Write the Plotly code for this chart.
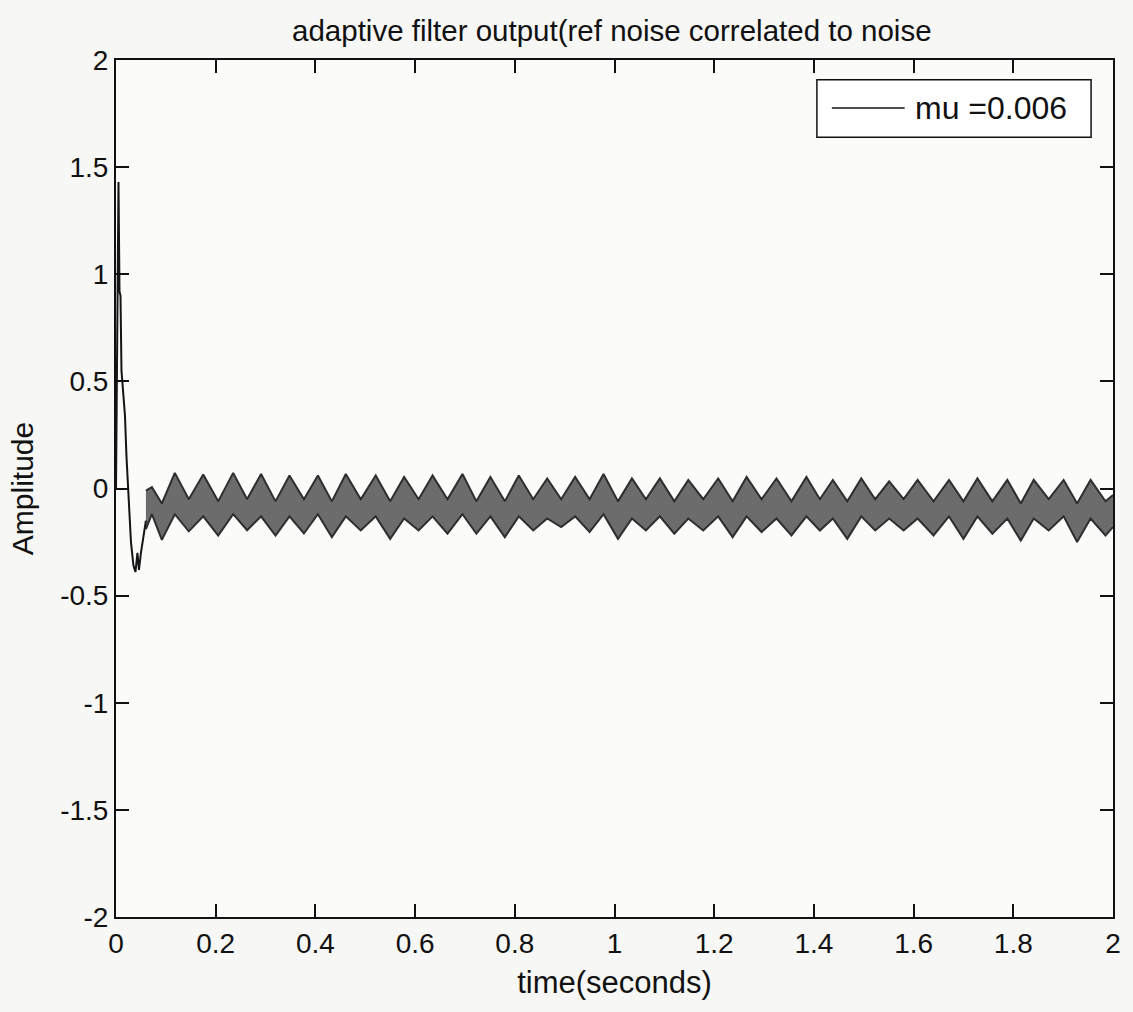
import plotly.graph_objects as go

# ---- data ----
# initial transient of the adaptive filter output
trans_t = [0.0, 0.005, 0.007, 0.009, 0.011, 0.013, 0.018, 0.021, 0.026, 0.030, 0.035, 0.039, 0.043, 0.046, 0.050, 0.055, 0.060]
trans_v = [0.0, 1.43, 0.92, 0.90, 0.55, 0.49, 0.34, 0.15, -0.09, -0.25, -0.36, -0.39, -0.30, -0.38, -0.30, -0.22, -0.15]

# slow oscillation of the (dense) steady-state band: maxima
peak_t = [0.072, 0.118, 0.175, 0.235, 0.291, 0.348, 0.405, 0.461, 0.521, 0.578, 0.635,
          0.695, 0.751, 0.808, 0.865, 0.921, 0.978, 1.035, 1.091, 1.148, 1.208, 1.265,
          1.325, 1.385, 1.438, 1.495, 1.551, 1.608, 1.671, 1.728, 1.788, 1.841, 1.901, 1.955]
peak_top = [0.006, 0.073, 0.065, 0.073, 0.068, 0.061, 0.061, 0.068, 0.061, 0.054, 0.061,
            0.068, 0.054, 0.061, 0.047, 0.054, 0.068, 0.047, 0.047, 0.040, 0.047, 0.054,
            0.047, 0.054, 0.040, 0.047, 0.033, 0.040, 0.040, 0.047, 0.040, 0.040, 0.040, 0.040]
peak_bot = [-0.12, -0.12, -0.13, -0.12, -0.13, -0.13, -0.12, -0.13, -0.13, -0.14, -0.13,
            -0.12, -0.13, -0.13, -0.14, -0.13, -0.12, -0.14, -0.13, -0.14, -0.13, -0.13,
            -0.14, -0.13, -0.14, -0.13, -0.14, -0.14, -0.13, -0.13, -0.14, -0.14, -0.13, -0.14]
# minima
trough_t = [0.092, 0.146, 0.205, 0.263, 0.320, 0.377, 0.433, 0.491, 0.550, 0.607, 0.665,
            0.723, 0.780, 0.837, 0.893, 0.950, 1.007, 1.063, 1.120, 1.178, 1.237, 1.295,
            1.355, 1.412, 1.467, 1.523, 1.580, 1.640, 1.700, 1.758, 1.815, 1.871, 1.928, 1.985]
trough_top = [-0.07, -0.05, -0.06, -0.05, -0.06, -0.05, -0.06, -0.05, -0.06, -0.05, -0.05,
              -0.06, -0.06, -0.05, -0.05, -0.05, -0.06, -0.05, -0.06, -0.05, -0.06, -0.05,
              -0.06, -0.05, -0.06, -0.05, -0.05, -0.06, -0.06, -0.06, -0.07, -0.05, -0.07, -0.06]
trough_bot = [-0.24, -0.20, -0.22, -0.195, -0.22, -0.21, -0.227, -0.196, -0.235, -0.196, -0.211,
              -0.211, -0.227, -0.196, -0.18, -0.203, -0.235, -0.196, -0.211, -0.196, -0.227, -0.203,
              -0.219, -0.196, -0.235, -0.196, -0.196, -0.219, -0.235, -0.211, -0.243, -0.196, -0.25, -0.219]
# band start and end
start_t, start_top, start_bot = 0.060, -0.01, -0.19
end_t, end_top, end_bot = 2.0, -0.03, -0.18

x_ticks = [0, 0.2, 0.4, 0.6, 0.8, 1, 1.2, 1.4, 1.6, 1.8, 2]
x_tick_text = ["0", "0.2", "0.4", "0.6", "0.8", "1", "1.2", "1.4", "1.6", "1.8", "2"]
y_ticks = [-2, -1.5, -1, -0.5, 0, 0.5, 1, 1.5, 2]
y_tick_text = ["-2", "-1.5", "-1", "-0.5", "0", "0.5", "1", "1.5", "2"]
legend_label = "mu =0.006"

# ---- assemble envelope polylines ----
pts = [(start_t, start_top, start_bot)]
pts += list(zip(peak_t, peak_top, peak_bot))
pts += list(zip(trough_t, trough_top, trough_bot))
pts.append((end_t, end_top, end_bot))
pts.sort(key=lambda p: p[0])
env_t = [p[0] for p in pts]
env_up = [p[1] for p in pts]
env_lo = [p[2] for p in pts]

FONT = "Liberation Sans, Arial, sans-serif"
INK = "#111111"
EDGE = "#2e2e2e"

fig = go.Figure()
fig.add_trace(go.Scatter(x=env_t, y=env_lo, mode="lines",
                         line=dict(color=EDGE, width=2), showlegend=False, hoverinfo="skip"))
fig.add_trace(go.Scatter(x=env_t, y=env_up, mode="lines", fill="tonexty",
                         fillcolor="#6c6c6c", line=dict(color=EDGE, width=2),
                         showlegend=False, hoverinfo="skip"))
fig.add_trace(go.Scatter(x=trans_t, y=trans_v, mode="lines", name=legend_label,
                         line=dict(color="#151515", width=2), showlegend=False))

axis_common = dict(showline=True, linecolor=INK, linewidth=2, mirror="ticks",
                   ticks="inside", tickcolor=INK, tickwidth=1.5, ticklen=13,
                   showgrid=False, zeroline=False,
                   tickfont=dict(family=FONT, size=28, color=INK))

# legend box drawn in paper coordinates (MATLAB style long line sample)
fig.add_shape(type="rect", xref="paper", yref="paper", x0=0.703, x1=0.978, y0=0.910, y1=0.977,
              line=dict(color=INK, width=1.5), fillcolor="#ffffff", layer="above")
fig.add_shape(type="line", xref="paper", yref="paper", x0=0.718, x1=0.791, y0=0.944, y1=0.944,
              line=dict(color="#151515", width=1.5), layer="above")
fig.add_annotation(text=legend_label, xref="paper", yref="paper", x=0.799, y=0.944,
                   xanchor="left", yanchor="middle", showarrow=False,
                   font=dict(family=FONT, size=32, color=INK))

fig.update_layout(
    width=1133, height=1012,
    margin=dict(l=116, r=16, t=60, b=95),
    paper_bgcolor="#f7f7f5", plot_bgcolor="#fbfbf9",
    title=dict(text="adaptive filter output(ref noise correlated to noise",
               x=0.540, xanchor="center", y=0.970, yanchor="middle",
               font=dict(family=FONT, size=29.5, color=INK)),
    xaxis=dict(range=[0, 2], tickvals=x_ticks, ticktext=x_tick_text,
               title=dict(text="time(seconds)", font=dict(family=FONT, size=31, color=INK),
                          standoff=14),
               **axis_common),
    yaxis=dict(range=[-2, 2], tickvals=y_ticks, ticktext=y_tick_text,
               title=dict(text="Amplitude", font=dict(family=FONT, size=30, color=INK),
                          standoff=18),
               **axis_common),
    showlegend=False,
)

fig.write_html("out.html")
